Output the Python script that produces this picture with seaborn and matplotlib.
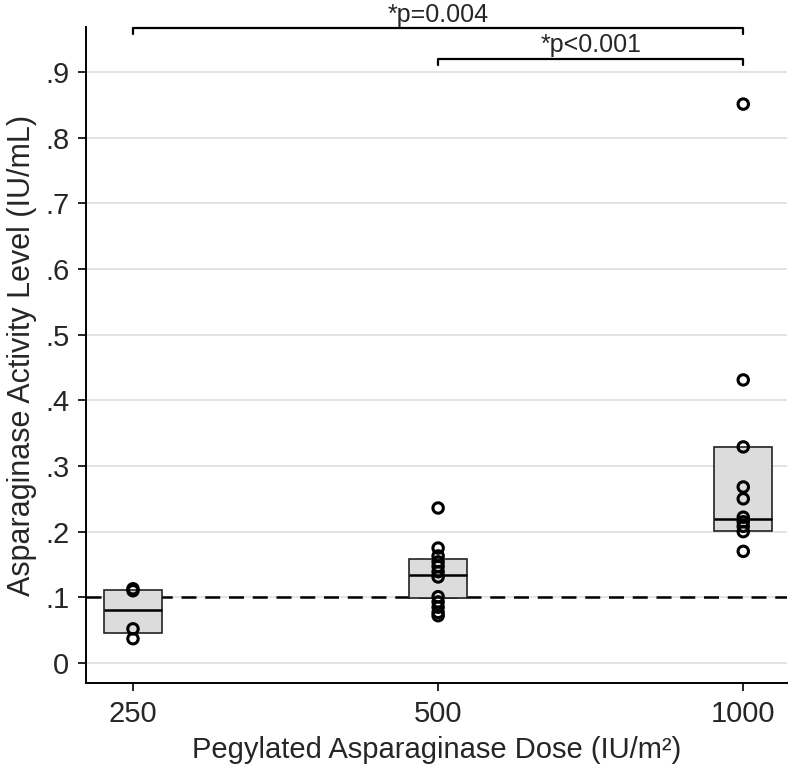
import numpy as np
import pandas as pd
import seaborn as sns
import matplotlib.pyplot as plt

# data
doses = ['250', '500', '1000']
level_250 = [0.113, 0.110, 0.052, 0.037]
level_500 = [0.236, 0.175, 0.163, 0.154, 0.147, 0.139, 0.131, 0.101, 0.093, 0.085, 0.077, 0.072]
level_1000 = [0.851, 0.431, 0.329, 0.268, 0.250, 0.222, 0.215, 0.208, 0.200, 0.170]

# box edges as drawn (25th, median, 75th)
box_q1 = [0.045, 0.099, 0.2015]
box_med = [0.081, 0.134, 0.219]
box_q3 = [0.111, 0.158, 0.329]

ytick_vals = [0, 0.1, 0.2, 0.3, 0.4, 0.5, 0.6, 0.7, 0.8, 0.9]
ytick_labels = ['0', '.1', '.2', '.3', '.4', '.5', '.6', '.7', '.8', '.9']
threshold = 0.1

# significance brackets: (from, to, bracket height, label)
comparisons = [('250', '1000', 0.967, '*p=0.004'),
               ('500', '1000', 0.920, '*p<0.001')]

df = pd.DataFrame({
    'dose': ['250'] * len(level_250) + ['500'] * len(level_500) + ['1000'] * len(level_1000),
    'level': level_250 + level_500 + level_1000,
})

sns.set_style('white')
plt.rcParams['font.family'] = ['Liberation Sans', 'DejaVu Sans']

fig = plt.figure(figsize=(8, 7.71), dpi=100)
ax = fig.add_axes([0.1075, 0.1141, 0.8765, 0.851])

ax.set_axisbelow(True)
ax.yaxis.grid(True, color='#dedede', lw=1.2)

# dashed reference line at 0.1
ax.axhline(threshold, color='black', lw=1.8, ls=(0, (6, 3.5)), zorder=1)

# boxes
stats = []
for q1, med, q3 in zip(box_q1, box_med, box_q3):
    stats.append({'q1': q1, 'med': med, 'q3': q3, 'whislo': q1, 'whishi': q3, 'fliers': []})
ax.bxp(stats, positions=[0, 1, 2], widths=0.19, showfliers=False, showcaps=False,
       patch_artist=True,
       boxprops=dict(facecolor='#dcdcdc', edgecolor='#222222', lw=1.2),
       medianprops=dict(color='black', lw=1.8),
       whiskerprops=dict(lw=0), zorder=2)

sns.stripplot(data=df, x='dose', y='level', order=doses, jitter=False,
              marker='o', size=7.5, ax=ax, zorder=3)
for coll in ax.collections:
    coll.set_facecolor('none')
    coll.set_edgecolor('black')
    coll.set_linewidth(2.2)

# brackets
pos = {d: i for i, d in enumerate(doses)}
for a, b, h, label in comparisons:
    xa, xb = pos[a], pos[b]
    ax.plot([xa, xa, xb, xb], [h - 0.009, h, h, h - 0.009], color='black', lw=1.6,
            clip_on=False, zorder=4)
    ax.text((xa + xb) / 2, h + 0.002, label, ha='center', va='bottom', fontsize=18,
            clip_on=False)

ax.set_xlim(-0.154, 2.144)
ax.set_ylim(-0.0305, 0.9685)
ax.set_xticks(range(len(doses)))
ax.set_xticklabels(doses, fontsize=21)
ax.set_yticks(ytick_vals)
ax.set_yticklabels(ytick_labels, fontsize=21)
ax.tick_params(axis='both', direction='out', length=6, width=1.2, color='black',
               left=True, bottom=True, pad=6)

ax.set_xlabel('Pegylated Asparaginase Dose (IU/m\u00b2)', fontsize=21, labelpad=6)
ax.set_ylabel('Asparaginase Activity Level (IU/mL)', fontsize=22, labelpad=6)

for side in ['top', 'right']:
    ax.spines[side].set_visible(False)
for side in ['left', 'bottom']:
    ax.spines[side].set_color('black')
    ax.spines[side].set_linewidth(1.4)

fig.savefig('out.png', dpi=100)
